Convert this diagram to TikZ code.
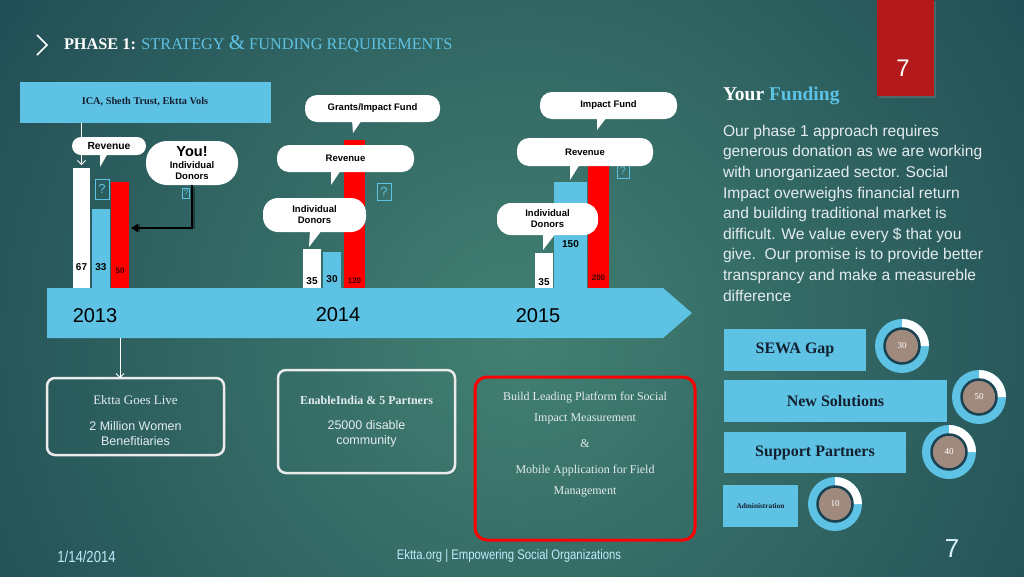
\documentclass[tikz,border=0pt]{standalone}
\usepackage{fontspec}
\setmainfont{Liberation Serif}
\newfontfamily\sansf{Liberation Sans}
\newfontfamily\narrowf[FakeStretch=0.82]{Liberation Sans}
\usetikzlibrary{calc,arrows.meta,shadows}
\definecolor{lblue}{RGB}{94,194,228}
\definecolor{bgdark}{RGB}{17,52,70}
\definecolor{bglight}{RGB}{66,128,114}
\definecolor{slidered}{RGB}{179,25,26}
\definecolor{donutbrown}{RGB}{160,138,126}
\definecolor{ringdark}{RGB}{26,66,80}
\definecolor{textlight}{RGB}{228,236,238}
\definecolor{navytext}{RGB}{20,32,48}
\begin{document}
\begin{tikzpicture}[x=1pt,y=-1pt,
  every node/.style={inner sep=0pt, outer sep=0pt},
  callout/.style={fill=white, align=center, text=black, font=\sansf\bfseries\fontsize{9.5}{11}\selectfont},
  barlbl/.style={font=\sansf\bfseries\fontsize{10}{10}\selectfont, text=black},
  smlbl/.style={font=\sansf\bfseries\fontsize{8}{8}\selectfont, text=black!75!red},
  qbox/.style={draw=lblue, line width=1pt, text=lblue, font=\sansf\fontsize{13}{13}\selectfont},
  outbox/.style={draw=white!92!black, line width=2.5pt, rounded corners=8pt},
  boxtext/.style={align=center, text=textlight, font=\sansf\fontsize{12.5}{15}\selectfont},
  rbar/.style={fill=lblue, font=\bfseries\fontsize{16}{16}\selectfont, text=navytext},
  donut/.style={circle, fill=lblue, minimum size=54pt},
  core/.style={circle, fill=donutbrown, draw=ringdark, line width=2.5pt, minimum size=35pt, text=white, font=\fontsize{9}{9}\selectfont},
  year/.style={font=\sansf\fontsize{20}{20}\selectfont, text=black},
  foot/.style={font=\narrowf\fontsize{13.8}{14}\selectfont, text=white!75!cyan},
  wline/.style={draw=white, line width=0.8pt, -{Straight Barb[length=4pt,width=8pt]}},
]
\useasboundingbox (0,0) rectangle (1024,576);
% background
\fill[bgdark] (0,0) rectangle (1024,576);
\begin{scope}
  \clip (0,0) rectangle (1024,576);
  \shade[inner color=bglight, outer color=bgdark] (520,340) circle (950pt);
\end{scope}

% title
\draw[white, line width=1.5pt] (37,35) -- (47,45) -- (37,55);
\node[anchor=base west] (title) at (64,49) {\fontsize{16.3}{17}\selectfont\bfseries\color{white}PHASE 1: \mdseries\color{lblue}STRATEGY {\fontsize{21}{21}\selectfont\&} FUNDING REQUIREMENTS};

% ICA box
\node[fill=lblue, minimum width=251pt, minimum height=41pt, font=\bfseries\fontsize{10.3}{11}\selectfont, text=navytext] (ica) at (145,102) {ICA, Sheth Trust, Ektta Vols};

% bars 2013
\node[fill=white, minimum width=17pt, minimum height=121pt, anchor=south] (b13w) at (81.5,289) {};
\node[fill=lblue, minimum width=18pt, minimum height=80pt, anchor=south] (b13b) at (101,289) {};
\node[fill=red, minimum width=18pt, minimum height=107pt, anchor=south] (b13r) at (120,289) {};
\node[barlbl] (l13w) at (81.5,267) {67};
\node[barlbl] (l13b) at (101,267) {33};
\node[smlbl] (l13r) at (120,271) {50};
% bars 2014
\node[fill=white, minimum width=18pt, minimum height=40pt, anchor=south] (b14w) at (312,289) {};
\node[fill=lblue, minimum width=18pt, minimum height=37pt, anchor=south] (b14b) at (332,289) {};
\node[fill=red, minimum width=21pt, minimum height=149pt, anchor=south] (b14r) at (354.5,289) {};
\node[barlbl] (l14w) at (312,281) {35};
\node[barlbl] (l14b) at (332,279) {30};
\node[smlbl] (l14r) at (354.5,281) {120};
% bars 2015
\node[fill=white, minimum width=18pt, minimum height=36pt, anchor=south] (b15w) at (544,289) {};
\node[fill=lblue, minimum width=33pt, minimum height=107pt, anchor=south] (b15b) at (570.5,289) {};
\node[fill=red, minimum width=21pt, minimum height=125pt, anchor=south] (b15r) at (598.5,289) {};
\node[barlbl] (l15w) at (544,282) {35};
\node[barlbl] (l15b) at (570.5,244) {150};
\node[smlbl] (l15r) at (598.5,278) {200};

% question boxes
\node[qbox, minimum width=14pt, minimum height=20pt] (q1) at (102,189) {?};
\node[qbox, line width=0.6pt, minimum width=7pt, minimum height=10pt, font=\sansf\fontsize{8}{8}\selectfont] (q2) at (186,193) {?};
\node[qbox, minimum width=14pt, minimum height=17pt] (q3) at (384,191.5) {?};
\node[qbox, minimum width=12pt, minimum height=15pt, font=\sansf\fontsize{11}{11}\selectfont] (q4) at (623,171) {?};

% timeline
\fill[lblue] (47,288) -- (663,288) -- (692,313) -- (663,338) -- (47,338) -- cycle;
\coordinate (tl13) at (120,338);
\node[year] (y13) at (95,316) {2013};
\node[year] (y14) at (338,315) {2014};
\node[year] (y15) at (538,316) {2015};

% callouts 2013
\node[callout, minimum width=74pt, minimum height=18pt, rounded corners=9pt, font=\sansf\bfseries\fontsize{10.3}{11}\selectfont] (rev13) at (109,146) {Revenue};
\fill[white] ($(rev13.south)+(-9,-2)$) -- ($(rev13.south)+(-9,12)$) -- ($(rev13.south)+(-1,-2)$) -- cycle;
\node[callout, minimum width=92pt, minimum height=44pt, rounded corners=21pt] (you) at (192,163)
  {{\fontsize{14.5}{15}\selectfont You!}\\[1pt]Individual\\Donors};
% callouts 2014
\node[callout, minimum width=135pt, minimum height=27pt, rounded corners=12pt] (gr14) at (372.5,108.5) {Grants/Impact Fund};
\fill[white] ($(gr14.south)+(-20.5,-2)$) -- ($(gr14.south)+(-19.5,11)$) -- ($(gr14.south)+(-10.5,-2)$) -- cycle;
\node[callout, minimum width=137pt, minimum height=27pt, rounded corners=12pt] (rev14) at (345.5,158.5) {Revenue};
\fill[white] ($(rev14.south)+(-14.5,-2)$) -- ($(rev14.south)+(-14.5,13)$) -- ($(rev14.south)+(-4.5,-2)$) -- cycle;
\node[callout, minimum width=103pt, minimum height=34pt, rounded corners=15pt] (ind14) at (314.5,215) {Individual\\Donors};
\fill[white] ($(ind14.south)+(-4.5,-2)$) -- ($(ind14.south)+(-5.5,15)$) -- ($(ind14.south)+(7.5,-2)$) -- cycle;
% callouts 2015
\node[callout, minimum width=137pt, minimum height=27pt, rounded corners=12pt] (imp15) at (608.5,105.5) {Impact Fund};
\fill[white] ($(imp15.south)+(-11.5,-2)$) -- ($(imp15.south)+(-11.5,11)$) -- ($(imp15.south)+(-1.5,-2)$) -- cycle;
\node[callout, minimum width=136pt, minimum height=28pt, rounded corners=12pt] (rev15) at (585,152) {Revenue};
\fill[white] ($(rev15.south)+(-15,-2)$) -- ($(rev15.south)+(-15,14)$) -- ($(rev15.south)+(-5,-2)$) -- cycle;
\node[callout, minimum width=101pt, minimum height=32pt, rounded corners=14pt] (ind15) at (547.5,219) {Individual\\Donors};
\fill[white] ($(ind15.south)+(-4.5,-2)$) -- ($(ind15.south)+(-4.5,15)$) -- ($(ind15.south)+(8.5,-2)$) -- cycle;

% connectors
\draw[wline] (ica.south -| b13w.north) -- ([yshift=3pt]b13w.north);
\coordinate (ky) at (0,228);
\draw[black, opacity=0.35, line width=2.5pt, -{Triangle[length=7pt,width=8pt]}] ([shift={(2,2)}]you.south) |- ([xshift=4pt]b13r.east |- ky);
\draw[black, line width=2.5pt, -{Triangle[length=7pt,width=8pt]}] (you.south) |- ([xshift=2pt]b13r.east |- ky);

% bottom boxes
\node[outbox, minimum width=177pt, minimum height=77pt] (box1) at (135.5,416.5) {};
\node[boxtext] (box1txt) at ($(box1.center)+(0,4)$)
  {{\rmfamily\fontsize{13}{13}\selectfont Ektta Goes Live}\\[11pt]2 Million Women\\Benefitiaries};
\draw[wline] (tl13) -- (tl13 |- box1.north);
\node[outbox, minimum width=177pt, minimum height=103pt] (box2) at (366.5,421.5) {};
\node[boxtext] (box2txt) at ($(box2.center)+(0,0)$)
  {{\rmfamily\bfseries\fontsize{12}{13}\selectfont EnableIndia \& 5 Partners}\\[10pt]25000 disable\\community};
\node[draw=red, line width=3pt, rounded corners=12pt, minimum width=220pt, minimum height=163pt] (box3) at (585,458.5) {};
\node[align=center, text=textlight, font=\fontsize{12}{21}\selectfont] (box3txt) at ($(box3.center)+(0,-14)$)
  {Build Leading Platform for Social\\Impact Measurement\\[5pt]\&\\[5pt]Mobile Application for Field\\Management};

% right: page tab
\node[fill=slidered, minimum width=57pt, minimum height=97pt, anchor=north west, drop shadow={opacity=0.4}] (tab) at (877,-1) {};
\node[font=\sansf\fontsize{24}{24}\selectfont, text=white] (tabnum) at (903,68) {7};

% your funding
\node[anchor=base west, font=\bfseries\fontsize{19.5}{20}\selectfont] (yf) at (723,100) {\color{white}Your \color{lblue}Funding};
\node[anchor=north west, align=left, text=textlight, font=\sansf\fontsize{15.6}{20.6}\selectfont] (para) at (723,125)
  {Our phase 1 approach requires\\generous donation as we are working\\with unorganizaed sector. Social\\Impact overweighs financial return\\and building traditional market is\\difficult. We value every \$ that you\\give.\ \ Our promise is to provide better\\transprancy and make a measureble\\difference};

% right bars
\node[rbar, minimum width=142pt, minimum height=42pt] (sewa) at (795,350) {SEWA Gap};
\node[rbar, minimum width=223pt, minimum height=42pt] (newsol) at (835.5,401) {New Solutions};
\node[rbar, minimum width=182pt, minimum height=41pt] (supp) at (815,452.5) {Support Partners};
\node[rbar, minimum width=75pt, minimum height=42pt, font=\bfseries\fontsize{7.3}{8}\selectfont] (admin) at (760.5,506) {Administration};

% donuts
\foreach \n/\c/\v in {d1/{(902,346)}/30, d2/{(979,397)}/50, d3/{(949,452)}/40, d4/{(835,504)}/10}{
  \node[donut] (\n) at \c {};
  \fill[white] (\n.center) -- (\n.north) arc[start angle=90, end angle=0, radius=27pt] -- cycle;
  \node[core] (\n c) at (\n.center) {\v};
}

% footer
\node[foot, font=\narrowf\fontsize{16}{16}\selectfont] (date) at (86.5,557) {1/14/2014};
\node[foot] (footer) at (509,556) {Ektta.org | Empowering Social Organizations};
\node[font=\sansf\fontsize{26}{26}\selectfont, text=white!85!cyan] (pnum) at (952,549) {7};
\end{tikzpicture}
\end{document}
